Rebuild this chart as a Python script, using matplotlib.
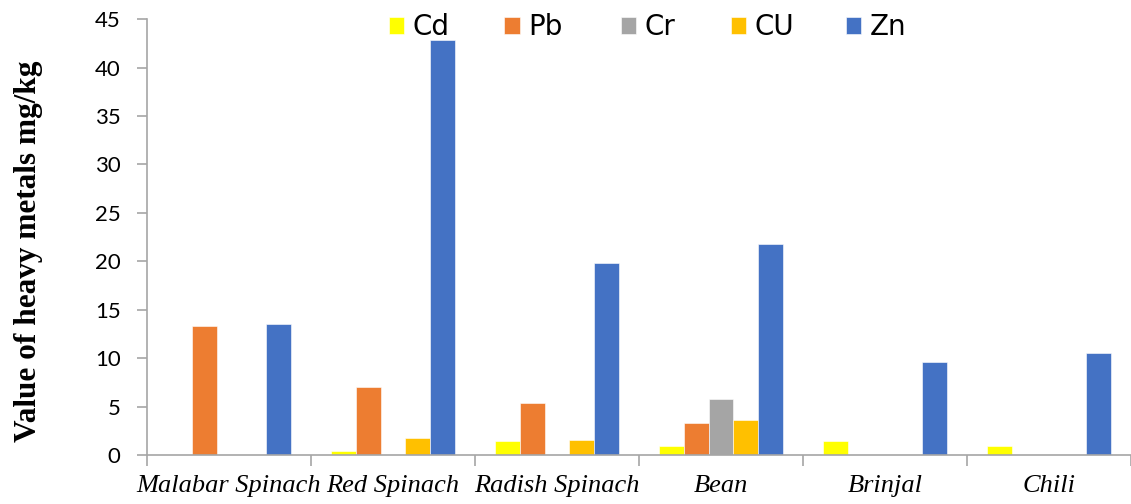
import numpy as np
import matplotlib
matplotlib.use('Agg')
import matplotlib.pyplot as plt

# vegetables and metal concentrations (mg/kg)
crops = ['Malabar Spinach', 'Red Spinach', 'Radish Spinach', 'Bean', 'Brinjal', 'Chili']
metals = ['Cd', 'Pb', 'Cr', 'Cu', 'Zn']
cd = [0.05, 0.45, 1.45, 0.95, 1.45, 0.95]
pb = [13.3, 7.0, 5.4, 3.27, 0, 0]
cr = [0, 0, 0, 5.8, 0, 0]
cu = [0, 1.75, 1.55, 3.6, 0, 0]
zn = [13.5, 42.8, 19.8, 21.8, 9.6, 10.5]
legend_labels = ['Cd', 'Pb', 'Cr', 'CU', 'Zn']
colors = ['#FFFF00', '#ED7D31', '#A5A5A5', '#FFC000', '#4472C4']

series = [cd, pb, cr, cu, zn]

fig = plt.figure(figsize=(11.31, 5.04), dpi=100)
ax = fig.add_axes([0.130, 0.097, 0.870, 0.865])

x = np.arange(len(crops))
w = 0.152
bars = []
for i, vals in enumerate(series):
    b = ax.bar(x + (i - 2) * w, vals, w, color=colors[i], label=legend_labels[i],
               edgecolor='white', linewidth=0.4)
    bars.append(b)

ax.set_xlim(-0.5, len(crops) - 0.5)
ax.set_ylim(0, 45)
ax.set_yticks(np.arange(0, 46, 5))

for s in ['top', 'right']:
    ax.spines[s].set_visible(False)
for s in ['left', 'bottom']:
    ax.spines[s].set_color('#A6A6A6')
    ax.spines[s].set_linewidth(1.2)

# category boundaries as ticks, names centred between them
ax.set_xticks(np.arange(-0.5, len(crops), 1.0))
ax.set_xticklabels([])
ax.tick_params(axis='x', which='major', length=8, color='#A6A6A6', width=1.2)
ax.set_xticks(x, minor=True)
ax.set_xticklabels(crops, minor=True, fontfamily='Liberation Serif',
                   fontstyle='italic', fontsize=19)
ax.tick_params(axis='x', which='minor', length=0, pad=14)
ax.tick_params(axis='y', length=7, color='#A6A6A6', width=1.2, pad=12)
for lab in ax.get_yticklabels():
    lab.set_fontfamily('Lato')
    lab.set_fontsize(16)

ax.set_ylabel('Value of heavy metals mg/kg', fontfamily='Liberation Serif',
              fontweight='bold', fontsize=22.5)
ax.yaxis.set_label_coords(-0.106, 0.468)

# one legend entry per metal, evenly spaced along the top
leg_x = [0.344, 0.446, 0.549, 0.646, 0.748]
for i, b in enumerate(bars):
    lg = fig.legend([b], [legend_labels[i]], loc='lower left',
                    bbox_to_anchor=(leg_x[i], 0.918), frameon=False,
                    borderpad=0, borderaxespad=0, handlelength=0.55,
                    handleheight=0.55, handletextpad=0.3,
                    prop={'family': 'DejaVu Sans', 'size': 20})

fig.savefig('out.png', dpi=100)
